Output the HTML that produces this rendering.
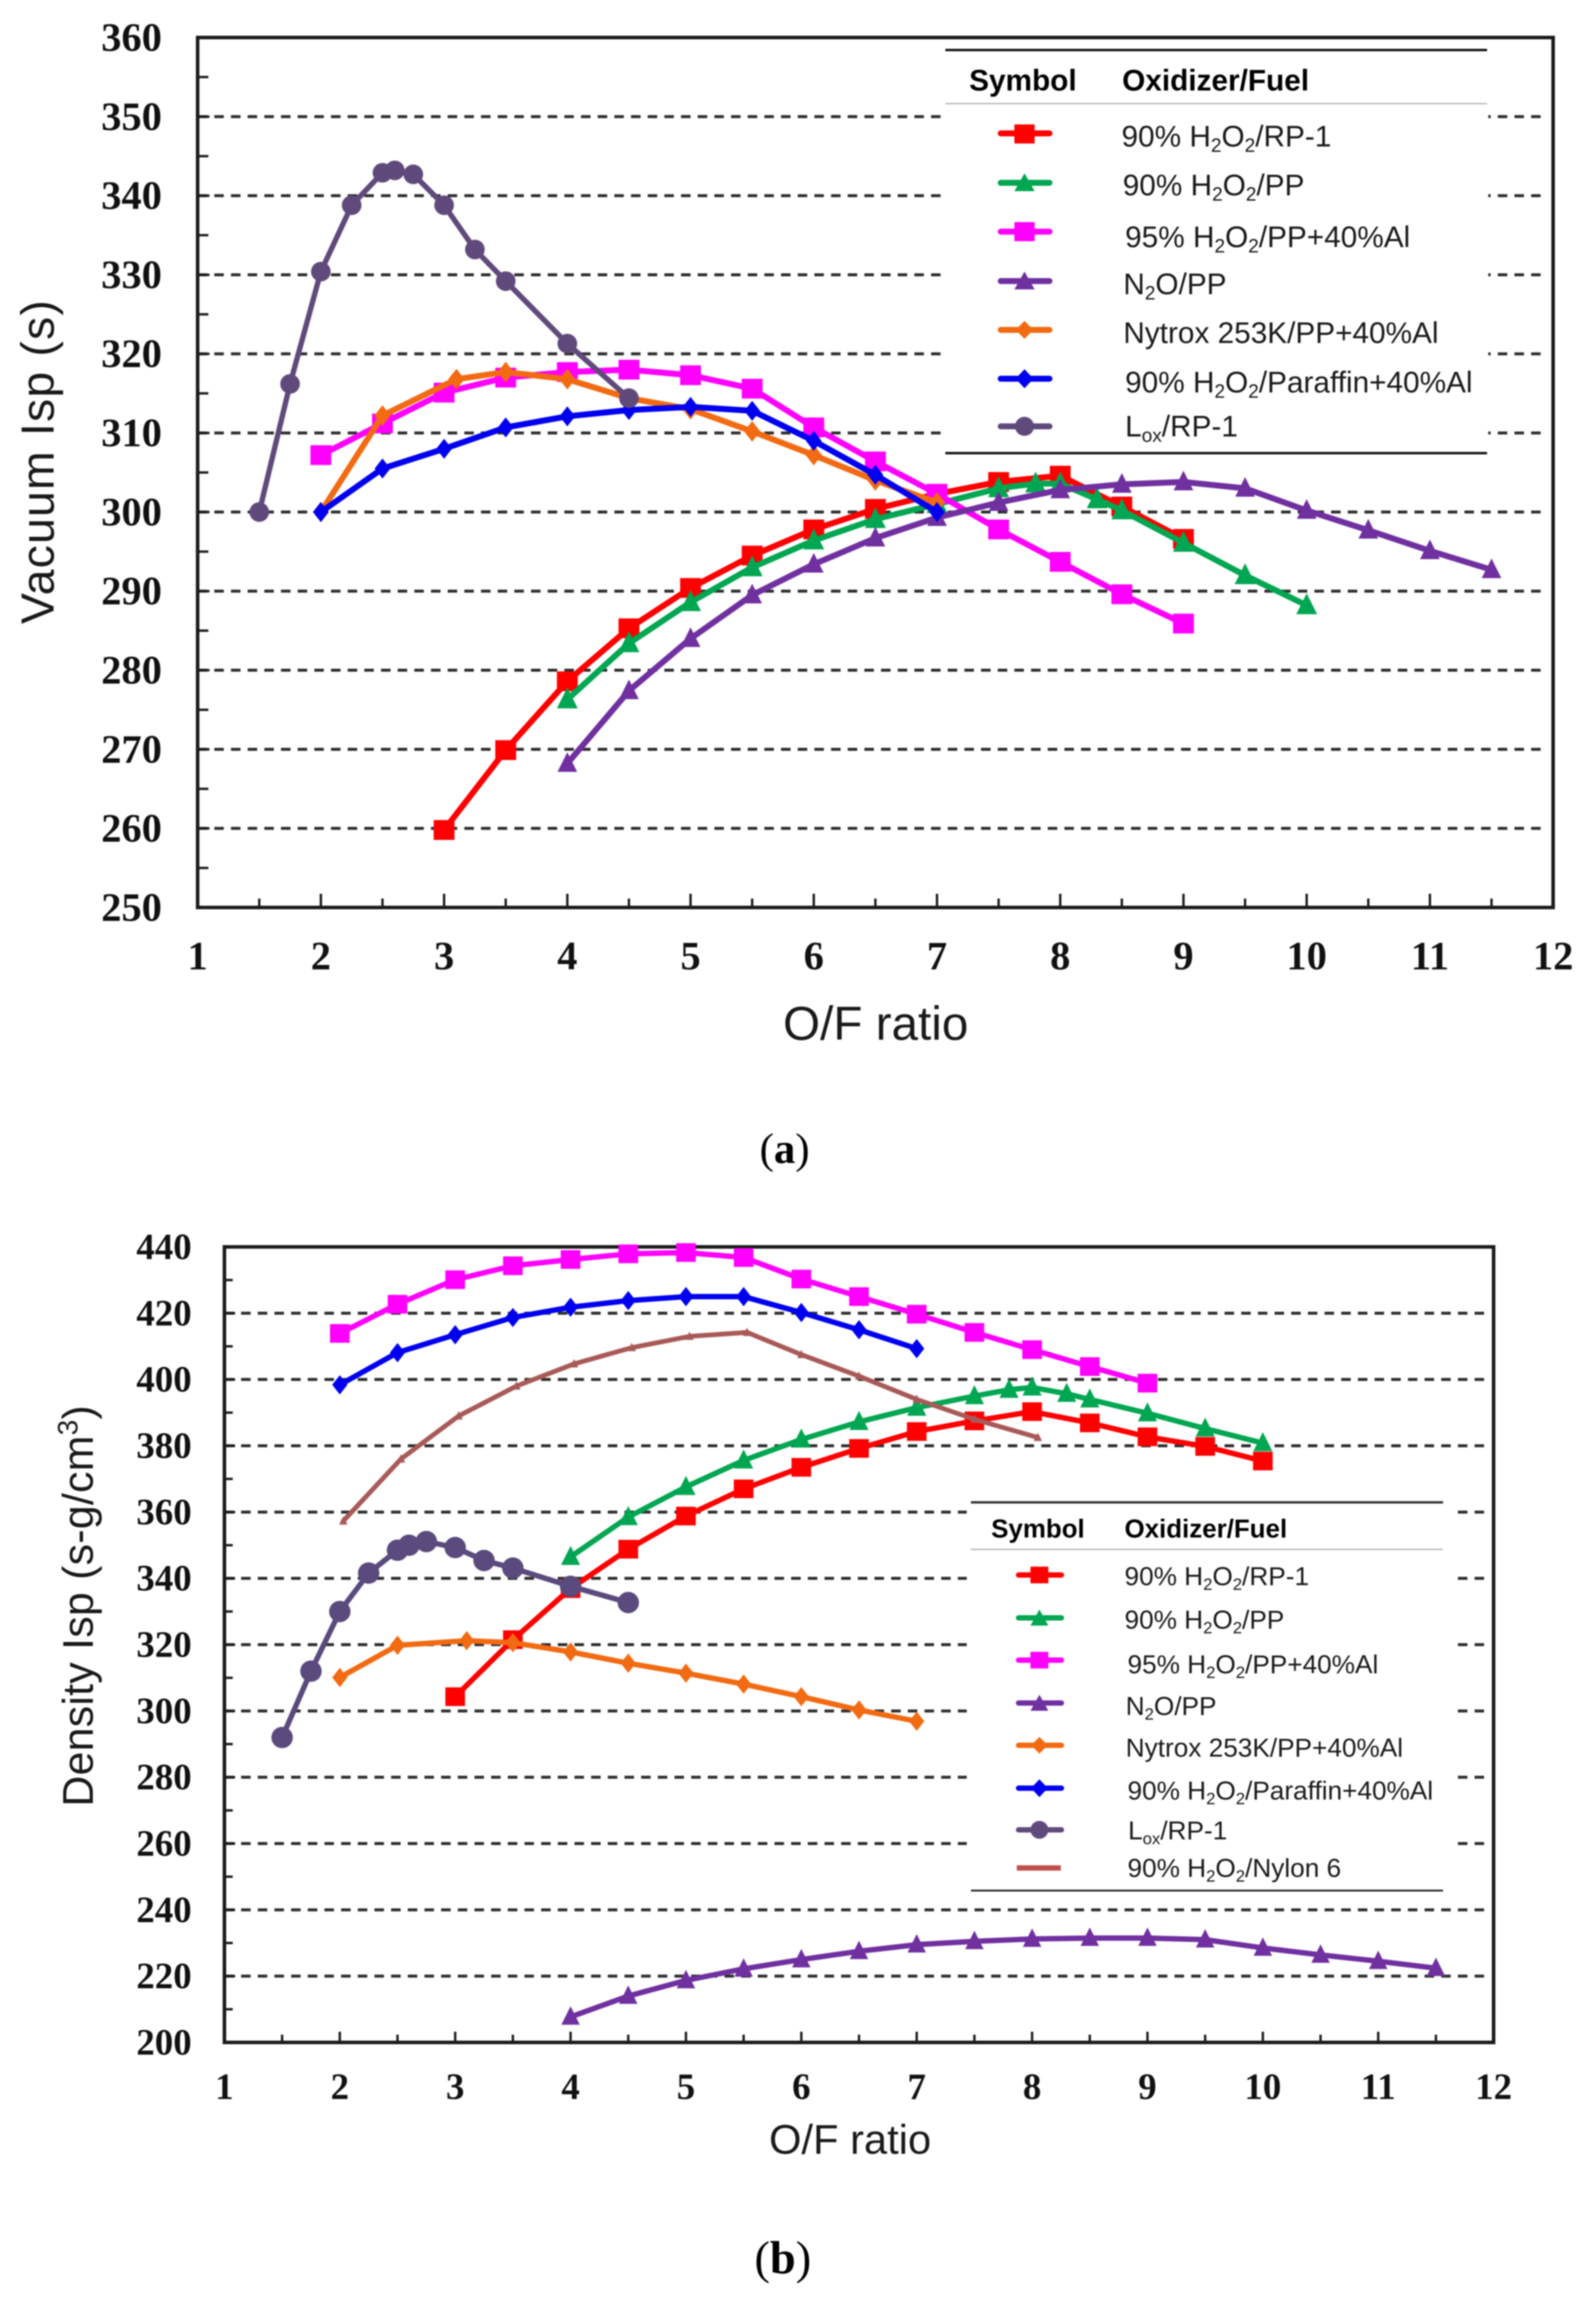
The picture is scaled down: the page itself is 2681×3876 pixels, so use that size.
<!DOCTYPE html>
<html lang="en">
<head>
<meta charset="utf-8">
<title>Vacuum and density Isp versus O/F ratio</title>
<style>
  html, body { margin: 0; padding: 0; background: #fff; }
  #figure { position: absolute; left: 0; top: 0; width: 2681px; height: 3876px; display: block; filter: blur(1px); }
  .sans { font-family: "Liberation Sans", sans-serif; fill: #1a1a1a; }
  .tick { font-family: "Liberation Serif", serif; font-weight: 700; fill: #111; }
  .cap { font-family: "Liberation Serif", serif; fill: #000; }
  .rowA { font-size: 50px; }
  .rowB { font-size: 44px; }
  .headA { font-size: 50px; font-weight: 700; fill: #000; }
  .headB { font-size: 43.5px; font-weight: 700; fill: #000; }
</style>
</head>
<body>
<svg id="figure" xmlns="http://www.w3.org/2000/svg" width="2681" height="3876" viewBox="0 0 2681 3876">
  <rect width="2681" height="3876" fill="#fff"/>
  <g id="plotA"></g>
  <g id="plotB"></g>

  <text class="sans" transform="translate(90,776) rotate(-90)" text-anchor="middle" font-size="78" textLength="544">Vacuum Isp (s)</text>
  <text class="sans" x="1471" y="1746" text-anchor="middle" font-size="80">O/F ratio</text>
  <text class="cap" x="1318" y="1953" text-anchor="middle" font-size="72">(<tspan font-weight="700">a</tspan>)</text>

  <text class="sans" transform="translate(156,2697) rotate(-90)" text-anchor="middle" font-size="72" textLength="674">Density Isp (s-g/cm<tspan font-size="47" dy="-26">3</tspan><tspan dy="26">)</tspan></text>
  <text class="sans" x="1428" y="3617" text-anchor="middle" font-size="70">O/F ratio</text>
  <text class="cap" x="1315" y="3818" text-anchor="middle" font-size="78">(<tspan font-weight="700">b</tspan>)</text>

  <g id="legendA">
    <rect x="1586" y="66" width="914" height="695" fill="#fff"/>
    <line x1="1588" x2="2498" y1="84" y2="84" stroke="#111" stroke-width="4"/>
    <line x1="1588" x2="2498" y1="174" y2="174" stroke="#aaa" stroke-width="2"/>
    <line x1="1588" x2="2498" y1="761" y2="761" stroke="#111" stroke-width="4"/>
    <text class="sans headA" x="1628" y="152">Symbol</text>
    <text class="sans headA" x="1885" y="152">Oxidizer/Fuel</text>

    <g>
      <line x1="1681" x2="1763" y1="224" y2="224" stroke="#ff0000" stroke-width="10" stroke-linecap="round"/>
      <rect x="1704" y="209" width="34" height="32" fill="#ff0000"/>
      <text class="sans rowA" x="1884" y="246">90% H<tspan font-size="32" dy="9">2</tspan><tspan dy="-9">O</tspan><tspan font-size="32" dy="9">2</tspan><tspan dy="-9">/RP-1</tspan></text>
    </g>
    <g>
      <line x1="1681" x2="1763" y1="307" y2="307" stroke="#00a651" stroke-width="10" stroke-linecap="round"/>
      <polygon points="1721,291 1738,321 1704,321" fill="#00a651"/>
      <text class="sans rowA" x="1886" y="328">90% H<tspan font-size="32" dy="9">2</tspan><tspan dy="-9">O</tspan><tspan font-size="32" dy="9">2</tspan><tspan dy="-9">/PP</tspan></text>
    </g>
    <g>
      <line x1="1681" x2="1763" y1="389" y2="389" stroke="#ff00ff" stroke-width="10" stroke-linecap="round"/>
      <rect x="1704" y="373" width="34" height="32" fill="#ff00ff"/>
      <text class="sans rowA" x="1890" y="415">95% H<tspan font-size="32" dy="9">2</tspan><tspan dy="-9">O</tspan><tspan font-size="32" dy="9">2</tspan><tspan dy="-9">/PP+40%Al</tspan></text>
    </g>
    <g>
      <line x1="1681" x2="1763" y1="472" y2="472" stroke="#7030a0" stroke-width="10" stroke-linecap="round"/>
      <polygon points="1721,456 1738,486 1704,486" fill="#7030a0"/>
      <text class="sans rowA" x="1887" y="494">N<tspan font-size="32" dy="9">2</tspan><tspan dy="-9">O/PP</tspan></text>
    </g>
    <g>
      <line x1="1681" x2="1763" y1="554" y2="554" stroke="#f26a12" stroke-width="10" stroke-linecap="round"/>
      <polygon points="1721,539 1736,554 1721,569 1706,554" fill="#f26a12"/>
      <text class="sans rowA" x="1887" y="576">Nytrox 253K/PP+40%Al</text>
    </g>
    <g>
      <line x1="1681" x2="1763" y1="636" y2="636" stroke="#0000f0" stroke-width="10" stroke-linecap="round"/>
      <polygon points="1721,620 1736,636 1721,652 1706,636" fill="#0000f0"/>
      <text class="sans rowA" x="1890" y="659">90% H<tspan font-size="32" dy="9">2</tspan><tspan dy="-9">O</tspan><tspan font-size="32" dy="9">2</tspan><tspan dy="-9">/Paraffin+40%Al</tspan></text>
    </g>
    <g>
      <line x1="1681" x2="1763" y1="716" y2="716" stroke="#604a7b" stroke-width="10" stroke-linecap="round"/>
      <circle cx="1721" cy="716" r="16" fill="#604a7b"/>
      <text class="sans rowA" x="1890" y="733">L<tspan font-size="32" dy="9">ox</tspan><tspan dy="-9">/RP-1</tspan></text>
    </g>
  </g>

  <g id="legendB">
    <rect x="1624" y="2515" width="813" height="664" fill="#fff"/>
    <line x1="1631" x2="2424" y1="2523" y2="2523" stroke="#333" stroke-width="4"/>
    <line x1="1631" x2="2424" y1="2602" y2="2602" stroke="#aaa" stroke-width="2"/>
    <line x1="1631" x2="2424" y1="3175" y2="3175" stroke="#222" stroke-width="3"/>
    <text class="sans headB" x="1665" y="2582">Symbol</text>
    <text class="sans headB" x="1889" y="2582">Oxidizer/Fuel</text>

    <g>
      <line x1="1711" x2="1783" y1="2645" y2="2645" stroke="#ff0000" stroke-width="9" stroke-linecap="round"/>
      <rect x="1731" y="2631" width="30" height="28" fill="#ff0000"/>
      <text class="sans rowB" x="1889" y="2662">90% H<tspan font-size="28" dy="8">2</tspan><tspan dy="-8">O</tspan><tspan font-size="28" dy="8">2</tspan><tspan dy="-8">/RP-1</tspan></text>
    </g>
    <g>
      <line x1="1711" x2="1783" y1="2717" y2="2717" stroke="#00a651" stroke-width="9" stroke-linecap="round"/>
      <polygon points="1746,2703 1761,2730 1731,2730" fill="#00a651"/>
      <text class="sans rowB" x="1889" y="2735">90% H<tspan font-size="28" dy="8">2</tspan><tspan dy="-8">O</tspan><tspan font-size="28" dy="8">2</tspan><tspan dy="-8">/PP</tspan></text>
    </g>
    <g>
      <line x1="1711" x2="1783" y1="2788" y2="2788" stroke="#ff00ff" stroke-width="9" stroke-linecap="round"/>
      <rect x="1731" y="2774" width="30" height="28" fill="#ff00ff"/>
      <text class="sans rowB" x="1894" y="2810">95% H<tspan font-size="28" dy="8">2</tspan><tspan dy="-8">O</tspan><tspan font-size="28" dy="8">2</tspan><tspan dy="-8">/PP+40%Al</tspan></text>
    </g>
    <g>
      <line x1="1711" x2="1783" y1="2860" y2="2860" stroke="#7030a0" stroke-width="9" stroke-linecap="round"/>
      <polygon points="1746,2846 1761,2873 1731,2873" fill="#7030a0"/>
      <text class="sans rowB" x="1891" y="2880">N<tspan font-size="28" dy="8">2</tspan><tspan dy="-8">O/PP</tspan></text>
    </g>
    <g>
      <line x1="1711" x2="1783" y1="2931" y2="2931" stroke="#f26a12" stroke-width="9" stroke-linecap="round"/>
      <polygon points="1746,2917 1760,2931 1746,2945 1732,2931" fill="#f26a12"/>
      <text class="sans rowB" x="1891" y="2950">Nytrox 253K/PP+40%Al</text>
    </g>
    <g>
      <line x1="1711" x2="1783" y1="3003" y2="3003" stroke="#0000f0" stroke-width="9" stroke-linecap="round"/>
      <polygon points="1746,2988 1760,3003 1746,3018 1732,3003" fill="#0000f0"/>
      <text class="sans rowB" x="1894" y="3022">90% H<tspan font-size="28" dy="8">2</tspan><tspan dy="-8">O</tspan><tspan font-size="28" dy="8">2</tspan><tspan dy="-8">/Paraffin+40%Al</tspan></text>
    </g>
    <g>
      <line x1="1711" x2="1783" y1="3073" y2="3073" stroke="#604a7b" stroke-width="9" stroke-linecap="round"/>
      <circle cx="1746" cy="3073" r="15" fill="#604a7b"/>
      <text class="sans rowB" x="1895" y="3089">L<tspan font-size="28" dy="8">ox</tspan><tspan dy="-8">/RP-1</tspan></text>
    </g>
    <g>
      <line x1="1708" x2="1782" y1="3137" y2="3137" stroke="#c0504d" stroke-width="9"/>
      <text class="sans rowB" x="1894" y="3152">90% H<tspan font-size="28" dy="8">2</tspan><tspan dy="-8">O</tspan><tspan font-size="28" dy="8">2</tspan><tspan dy="-8">/Nylon 6</tspan></text>
    </g>
  </g>
</svg>

<script>
// Shared axis ticks
const xTickValues = [1, 2, 3, 4, 5, 6, 7, 8, 9, 10, 11, 12];
const xMinorValues = [1.5, 2.5, 3.5, 4.5, 5.5, 6.5, 7.5, 8.5, 9.5, 10.5, 11.5];

// Chart A ticks
const yTickValuesA = [250, 260, 270, 280, 290, 300, 310, 320, 330, 340, 350, 360];
const yMinorValuesA = [255, 265, 275, 285, 295, 305, 315, 325, 335, 345, 355];

// Chart B ticks
const yTickValuesB = [200, 220, 240, 260, 280, 300, 320, 340, 360, 380, 400, 420, 440];
const yMinorValuesB = [210, 230, 250, 270, 290, 310, 330, 350, 370, 390, 410, 430];

// Chart A series: O/F ratios
const xRp1A = [3, 3.5, 4, 4.5, 5, 5.5, 6, 6.5, 7, 7.5, 8, 8.5, 9];
const xPpA = [4, 4.5, 5, 5.5, 6, 6.5, 7, 7.5, 7.8, 8, 8.3, 8.5, 9, 9.5, 10];
const xPpAlA = [2, 2.5, 3, 3.5, 4, 4.5, 5, 5.5, 6, 6.5, 7, 7.5, 8, 8.5, 9];
const xN2oA = [4, 4.5, 5, 5.5, 6, 6.5, 7, 7.5, 8, 8.5, 9, 9.5, 10, 10.5, 11, 11.5];
const xNytroxA = [2, 2.5, 3.1, 3.5, 4, 4.5, 5, 5.5, 6, 6.5, 7];
const xParaffinA = [2, 2.5, 3, 3.5, 4, 4.5, 5, 5.5, 6, 6.5, 7];
const xLoxA = [1.5, 1.75, 2, 2.25, 2.5, 2.6, 2.75, 3, 3.25, 3.5, 4, 4.5];

// Chart A series: vacuum Isp (s)
const ispRp1A = [259.8, 269.9, 278.6, 285.3, 290.4, 294.5, 297.8, 300.4, 302.3, 303.8, 304.6, 300.7, 296.6];
const ispPpA = [276.3, 283.4, 288.6, 293, 296.4, 299.1, 301, 303, 303.6, 303.6, 301.6, 300.2, 296.1, 292, 288.2];
const ispPpAlA = [307.2, 311.2, 315.1, 317, 317.7, 318, 317.3, 315.6, 310.7, 306.4, 302.3, 297.8, 293.7, 289.6, 285.9];
const ispN2oA = [268.2, 277.4, 284, 289.5, 293.4, 296.7, 299.3, 301.2, 302.8, 303.5, 303.8, 303, 300.2, 297.7, 295.1, 292.7];
const ispNytroxA = [300, 312.2, 316.8, 317.7, 316.8, 314.4, 313, 310.2, 307.2, 304, 301.2];
const ispParaffinA = [300, 305.5, 308, 310.7, 312.1, 312.9, 313.3, 312.8, 309, 304.7, 300];
const ispLoxA = [300, 316.2, 330.4, 338.8, 342.9, 343.2, 342.7, 338.8, 333.2, 329.2, 321.3, 314.4];

// Chart B series: O/F ratios
const xRp1B = [3, 3.5, 4, 4.5, 5, 5.5, 6, 6.5, 7, 7.5, 8, 8.5, 9, 9.5, 10];
const xPpB = [4, 4.5, 5, 5.5, 6, 6.5, 7, 7.5, 7.8, 8, 8.3, 8.5, 9, 9.5, 10];
const xPpAlB = [2, 2.5, 3, 3.5, 4, 4.5, 5, 5.5, 6, 6.5, 7, 7.5, 8, 8.5, 9];
const xN2oB = [4, 4.5, 5, 5.5, 6, 6.5, 7, 7.5, 8, 8.5, 9, 9.5, 10, 10.5, 11, 11.5];
const xNytroxB = [2, 2.5, 3.1, 3.5, 4, 4.5, 5, 5.5, 6, 6.5, 7];
const xParaffinB = [2, 2.5, 3, 3.5, 4, 4.5, 5, 5.5, 6, 6.5, 7];
const xLoxB = [1.5, 1.75, 2, 2.25, 2.5, 2.6, 2.75, 3, 3.25, 3.5, 4, 4.5];
const xNylonB = [2.03, 2.53, 3.03, 3.53, 4.03, 4.53, 5.03, 5.53, 6, 6.5, 7, 7.5, 8.05];

// Chart B series: density Isp (s-g/cm3)
const ispRp1B = [304.3, 321.5, 336.9, 348.8, 358.8, 367, 373.5, 379.2, 384.3, 387.5, 390.3, 386.9, 382.7, 379.8, 375.4];
const ispPpB = [346.5, 358.5, 367.6, 375.6, 381.9, 387.2, 391.5, 395, 396.9, 397.6, 395.7, 394, 389.8, 385.2, 380.8];
const ispPpAlB = [413.9, 422.7, 430.1, 434.3, 436.2, 437.9, 438.3, 436.8, 430.3, 425, 419.7, 414.2, 409, 403.9, 398.9];
const ispN2oB = [207.7, 214, 218.7, 222.2, 225, 227.5, 229.5, 230.5, 231.2, 231.5, 231.5, 231, 228.5, 226.4, 224.5, 222.4];
const ispNytroxB = [310.1, 319.8, 321.2, 320.6, 317.8, 314.4, 311.4, 308.1, 304.3, 300.3, 296.9];
const ispParaffinB = [398.4, 408.1, 413.5, 418.7, 421.8, 423.8, 425, 425, 420.2, 415, 409.3];
const ispLoxB = [292, 312, 330, 341.6, 348.5, 350, 351.1, 349.3, 345.4, 343.1, 337.6, 332.7];
const ispNylonB = [357.3, 376, 389, 398, 404.7, 409.6, 413, 414.2, 407.5, 401, 394, 388, 382.5];

const SVG_NS = 'http://www.w3.org/2000/svg';

function add(parent, tag, attrs) {
  const el = document.createElementNS(SVG_NS, tag);
  for (const k in attrs) el.setAttribute(k, attrs[k]);
  parent.appendChild(el);
  return el;
}

function drawMarker(g, shape, cx, cy, size, color) {
  const s = size / 2;
  let m;
  if (shape === 'square') {
    m = add(g, 'rect', { x: cx - s, y: cy - s * 0.95, width: size, height: size * 0.95, fill: color });
  } else if (shape === 'triangle') {
    m = add(g, 'polygon', { points: [[cx, cy - s * 1.15], [cx + s, cy + s * 0.85], [cx - s, cy + s * 0.85]].join(' '), fill: color });
  } else if (shape === 'diamond') {
    m = add(g, 'polygon', { points: [[cx, cy - s * 1.12], [cx + s * 0.88, cy], [cx, cy + s * 1.12], [cx - s * 0.88, cy]].join(' '), fill: color });
  } else {
    m = add(g, 'circle', { cx: cx, cy: cy, r: s, fill: color });
  }
  
  
}

function drawChart(cfg) {
  const root = document.getElementById(cfg.rootId);
  const xPos = v => cfg.left + (v - cfg.xMin) / (cfg.xMax - cfg.xMin) * (cfg.right - cfg.left);
  const yPos = v => cfg.bottom - (v - cfg.yMin) / (cfg.yMax - cfg.yMin) * (cfg.bottom - cfg.top);

  // dashed gridlines
  cfg.yTicks.forEach(v => {
    if (v === cfg.yMin || v === cfg.yMax) return;
    const l = add(root, 'line', { x1: cfg.left, x2: cfg.gridEnd, y1: yPos(v), y2: yPos(v), stroke: '#2e2e2e', 'stroke-width': 5, 'stroke-dasharray': '16 12' });
    
    
  });

  // frame
  const frame = add(root, 'rect', { x: cfg.left, y: cfg.top, width: cfg.right - cfg.left, height: cfg.bottom - cfg.top, fill: 'none', stroke: '#1c1c1c', 'stroke-width': 6 });
  
  

  // x ticks and labels
  xTickValues.forEach(v => {
    const t = add(root, 'line', { x1: xPos(v), x2: xPos(v), y1: cfg.bottom, y2: cfg.bottom - cfg.majorLen, stroke: '#1c1c1c', 'stroke-width': 4 });
    
    
    const lab = add(root, 'text', { class: 'tick', x: xPos(v), y: cfg.xLabelY, 'text-anchor': 'middle', 'font-size': cfg.tickFont });
    lab.textContent = v;
    
    
  });
  xMinorValues.forEach(v => {
    const t = add(root, 'line', { x1: xPos(v), x2: xPos(v), y1: cfg.bottom, y2: cfg.bottom - cfg.minorLen, stroke: '#1c1c1c', 'stroke-width': 4 });
    
    
  });

  // y ticks and labels
  cfg.yTicks.forEach(v => {
    const t = add(root, 'line', { x1: cfg.left, x2: cfg.left + cfg.yMajorLen, y1: yPos(v), y2: yPos(v), stroke: '#1c1c1c', 'stroke-width': 4 });
    
    
    const lab = add(root, 'text', { class: 'tick', x: cfg.yLabelX, y: yPos(v) + cfg.tickFont * 0.33, 'text-anchor': 'end', 'font-size': cfg.tickFont });
    lab.textContent = v;
    
    
  });
  cfg.yMinor.forEach(v => {
    const t = add(root, 'line', { x1: cfg.left, x2: cfg.left + cfg.yMinorLen, y1: yPos(v), y2: yPos(v), stroke: '#1c1c1c', 'stroke-width': 4 });
    
    
  });

  // series
  cfg.series.forEach(s => {
    const g = add(root, 'g', {});
    
    
    const pts = s.x.map((xv, i) => xPos(xv).toFixed(1) + ',' + yPos(s.y[i]).toFixed(1)).join(' ');
    const line = add(g, 'polyline', { points: pts, fill: 'none', stroke: s.color, 'stroke-width': s.width, 'stroke-linejoin': 'round', 'stroke-linecap': 'round' });
    
    
    s.x.forEach((xv, i) => drawMarker(g, s.shape, xPos(xv), yPos(s.y[i]), s.size, s.color));
  });
}

drawChart({
  rootId: 'plotA', left: 332, right: 2609, top: 63, bottom: 1524, gridEnd: 2598,
  xMin: 1, xMax: 12, yMin: 250, yMax: 360,
  yTicks: yTickValuesA, yMinor: yMinorValuesA,
  majorLen: 23, minorLen: 15, yMajorLen: 20, yMinorLen: 18,
  tickFont: 68, xLabelY: 1628, yLabelX: 272,
  series: [
    { name: 'h2o2-rp1', x: xRp1A, y: ispRp1A, color: '#ff0000', width: 10, shape: 'square', size: 35 },
    { name: 'h2o2-pp', x: xPpA, y: ispPpA, color: '#00a651', width: 10, shape: 'triangle', size: 35 },
    { name: '95-h2o2-pp-al', x: xPpAlA, y: ispPpAlA, color: '#ff00ff', width: 10, shape: 'square', size: 35 },
    { name: 'n2o-pp', x: xN2oA, y: ispN2oA, color: '#7030a0', width: 10, shape: 'triangle', size: 33 },
    { name: 'nytrox', x: xNytroxA, y: ispNytroxA, color: '#f26a12', width: 10, shape: 'diamond', size: 31 },
    { name: 'h2o2-paraffin', x: xParaffinA, y: ispParaffinA, color: '#0000f0', width: 10, shape: 'diamond', size: 30 },
    { name: 'lox-rp1', x: xLoxA, y: ispLoxA, color: '#604a7b', width: 9, shape: 'circle', size: 33 }
  ]
});

drawChart({
  rootId: 'plotB', left: 377, right: 2509, top: 2094, bottom: 3430, gridEnd: 2505,
  xMin: 1, xMax: 12, yMin: 200, yMax: 440,
  yTicks: yTickValuesB, yMinor: yMinorValuesB,
  majorLen: 18, minorLen: 13, yMajorLen: 18, yMinorLen: 14,
  tickFont: 62, xLabelY: 3525, yLabelX: 322,
  series: [
    { name: 'h2o2-rp1', x: xRp1B, y: ispRp1B, color: '#ff0000', width: 9, shape: 'square', size: 33 },
    { name: 'h2o2-pp', x: xPpB, y: ispPpB, color: '#00a651', width: 9, shape: 'triangle', size: 32 },
    { name: '95-h2o2-pp-al', x: xPpAlB, y: ispPpAlB, color: '#ff00ff', width: 9, shape: 'square', size: 33 },
    { name: 'n2o-pp', x: xN2oB, y: ispN2oB, color: '#7030a0', width: 9, shape: 'triangle', size: 31 },
    { name: 'nytrox', x: xNytroxB, y: ispNytroxB, color: '#f26a12', width: 9, shape: 'diamond', size: 29 },
    { name: 'h2o2-paraffin', x: xParaffinB, y: ispParaffinB, color: '#0000f0', width: 9, shape: 'diamond', size: 29 },
    { name: 'lox-rp1', x: xLoxB, y: ispLoxB, color: '#5a4a7d', width: 9, shape: 'circle', size: 36 },
    { name: 'h2o2-nylon', x: xNylonB, y: ispNylonB, color: '#a85a58', width: 8, shape: 'triangle', size: 14 }
  ]
});

// Legends sit above the gridlines of their chart
const figure = document.getElementById('figure');
const legendAGroup = document.getElementById('legendA');
const legendBGroup = document.getElementById('legendB');
figure.appendChild(legendAGroup);
figure.appendChild(legendBGroup);
</script>
</body>
</html>
